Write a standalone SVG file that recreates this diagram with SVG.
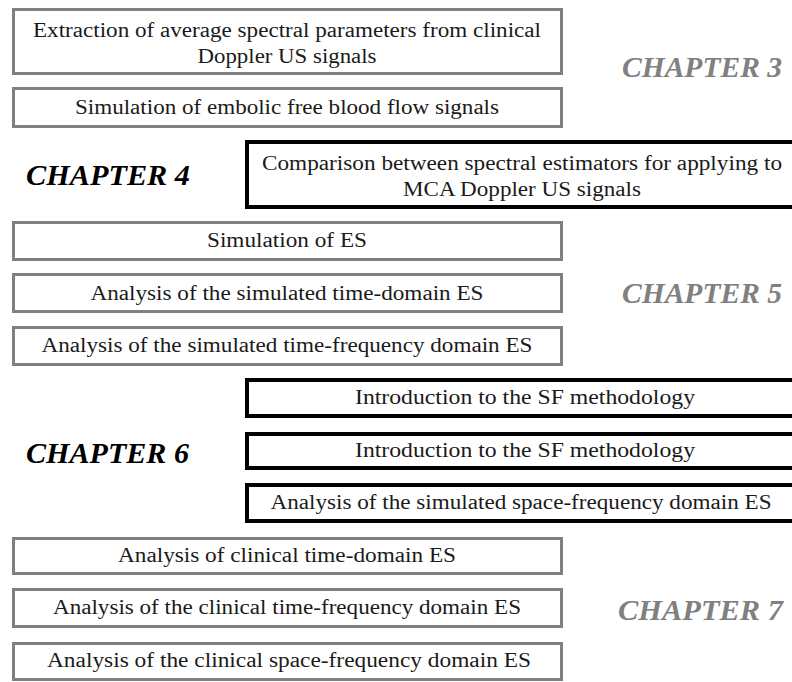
<svg xmlns="http://www.w3.org/2000/svg" width="792" height="682" viewBox="0 0 792 682">
  <style>
    .gray { fill: #ffffff; stroke: #808080; stroke-width: 3; }
    .dark { fill: #ffffff; stroke: #000000; stroke-width: 4; }
    .lbl { font-family: "Liberation Serif", "Times New Roman", serif; font-size: 20px; fill: #1a1a1a; text-anchor: middle; }
    .ch { font-family: "Liberation Serif", "Times New Roman", serif; font-size: 29px; font-weight: bold; font-style: italic; }
    .ch-gray { fill: #808080; }
    .ch-dark { fill: #000000; }
  </style>
  <rect width="792" height="682" fill="#ffffff"/>

  <!-- chapter 3 -->
  <g id="n-extraction">
    <rect class="gray" x="13.5" y="9.5" width="548" height="64"/>
    <text class="lbl" x="287" y="37" textLength="508" lengthAdjust="spacingAndGlyphs">Extraction of average spectral parameters from clinical</text>
    <text class="lbl" x="287" y="63" textLength="179" lengthAdjust="spacingAndGlyphs">Doppler US signals</text>
  </g>
  <g id="n-embolic-free">
    <rect class="gray" x="13.5" y="88.5" width="548" height="38"/>
    <text class="lbl" x="287" y="114" textLength="424" lengthAdjust="spacingAndGlyphs">Simulation of embolic free blood flow signals</text>
  </g>
  <text id="ch3" class="ch ch-gray" x="622" y="77" textLength="160" lengthAdjust="spacingAndGlyphs">CHAPTER 3</text>

  <!-- chapter 4 -->
  <g id="n-comparison">
    <rect class="dark" x="247" y="142" width="560" height="65"/>
    <text class="lbl" x="522" y="170" textLength="520" lengthAdjust="spacingAndGlyphs">Comparison between spectral estimators for applying to</text>
    <text class="lbl" x="522" y="196" textLength="238" lengthAdjust="spacingAndGlyphs">MCA Doppler US signals</text>
  </g>
  <text id="ch4" class="ch ch-dark" x="26" y="185" textLength="164" lengthAdjust="spacingAndGlyphs">CHAPTER 4</text>

  <!-- chapter 5 -->
  <g id="n-sim-es">
    <rect class="gray" x="13.5" y="222.5" width="548" height="37"/>
    <text class="lbl" x="287" y="247" textLength="160" lengthAdjust="spacingAndGlyphs">Simulation of ES</text>
  </g>
  <g id="n-sim-time">
    <rect class="gray" x="13.5" y="274.5" width="548" height="37"/>
    <text class="lbl" x="287" y="300" textLength="393" lengthAdjust="spacingAndGlyphs">Analysis of the simulated time-domain ES</text>
  </g>
  <g id="n-sim-tf">
    <rect class="gray" x="13.5" y="327.5" width="548" height="37"/>
    <text class="lbl" x="287" y="352" textLength="491" lengthAdjust="spacingAndGlyphs">Analysis of the simulated time-frequency domain ES</text>
  </g>
  <text id="ch5" class="ch ch-gray" x="622" y="303" textLength="160" lengthAdjust="spacingAndGlyphs">CHAPTER 5</text>

  <!-- chapter 6 -->
  <g id="n-sf-intro-1">
    <rect class="dark" x="247" y="380" width="560" height="36"/>
    <text class="lbl" x="525" y="404" textLength="340" lengthAdjust="spacingAndGlyphs">Introduction to the SF methodology</text>
  </g>
  <g id="n-sf-intro-2">
    <rect class="dark" x="247" y="434" width="560" height="34"/>
    <text class="lbl" x="525" y="457" textLength="340" lengthAdjust="spacingAndGlyphs">Introduction to the SF methodology</text>
  </g>
  <g id="n-sim-sf">
    <rect class="dark" x="247" y="485" width="560" height="36"/>
    <text class="lbl" x="521" y="509" textLength="501" lengthAdjust="spacingAndGlyphs">Analysis of the simulated space-frequency domain ES</text>
  </g>
  <text id="ch6" class="ch ch-dark" x="26" y="463" textLength="163" lengthAdjust="spacingAndGlyphs">CHAPTER 6</text>

  <!-- chapter 7 -->
  <g id="n-clin-time">
    <rect class="gray" x="13.5" y="538.5" width="548" height="35"/>
    <text class="lbl" x="287" y="562" textLength="338" lengthAdjust="spacingAndGlyphs">Analysis of clinical time-domain ES</text>
  </g>
  <g id="n-clin-tf">
    <rect class="gray" x="13.5" y="589.5" width="548" height="37"/>
    <text class="lbl" x="287" y="614" textLength="468" lengthAdjust="spacingAndGlyphs">Analysis of the clinical time-frequency domain ES</text>
  </g>
  <g id="n-clin-sf">
    <rect class="gray" x="13.5" y="643.5" width="548" height="36"/>
    <text class="lbl" x="289" y="667" textLength="484" lengthAdjust="spacingAndGlyphs">Analysis of the clinical space-frequency domain ES</text>
  </g>
  <text id="ch7" class="ch ch-gray" x="618" y="620" textLength="165" lengthAdjust="spacingAndGlyphs">CHAPTER 7</text>

  <!-- no connectors in this layout -->
  <g id="connectors"/>
</svg>
